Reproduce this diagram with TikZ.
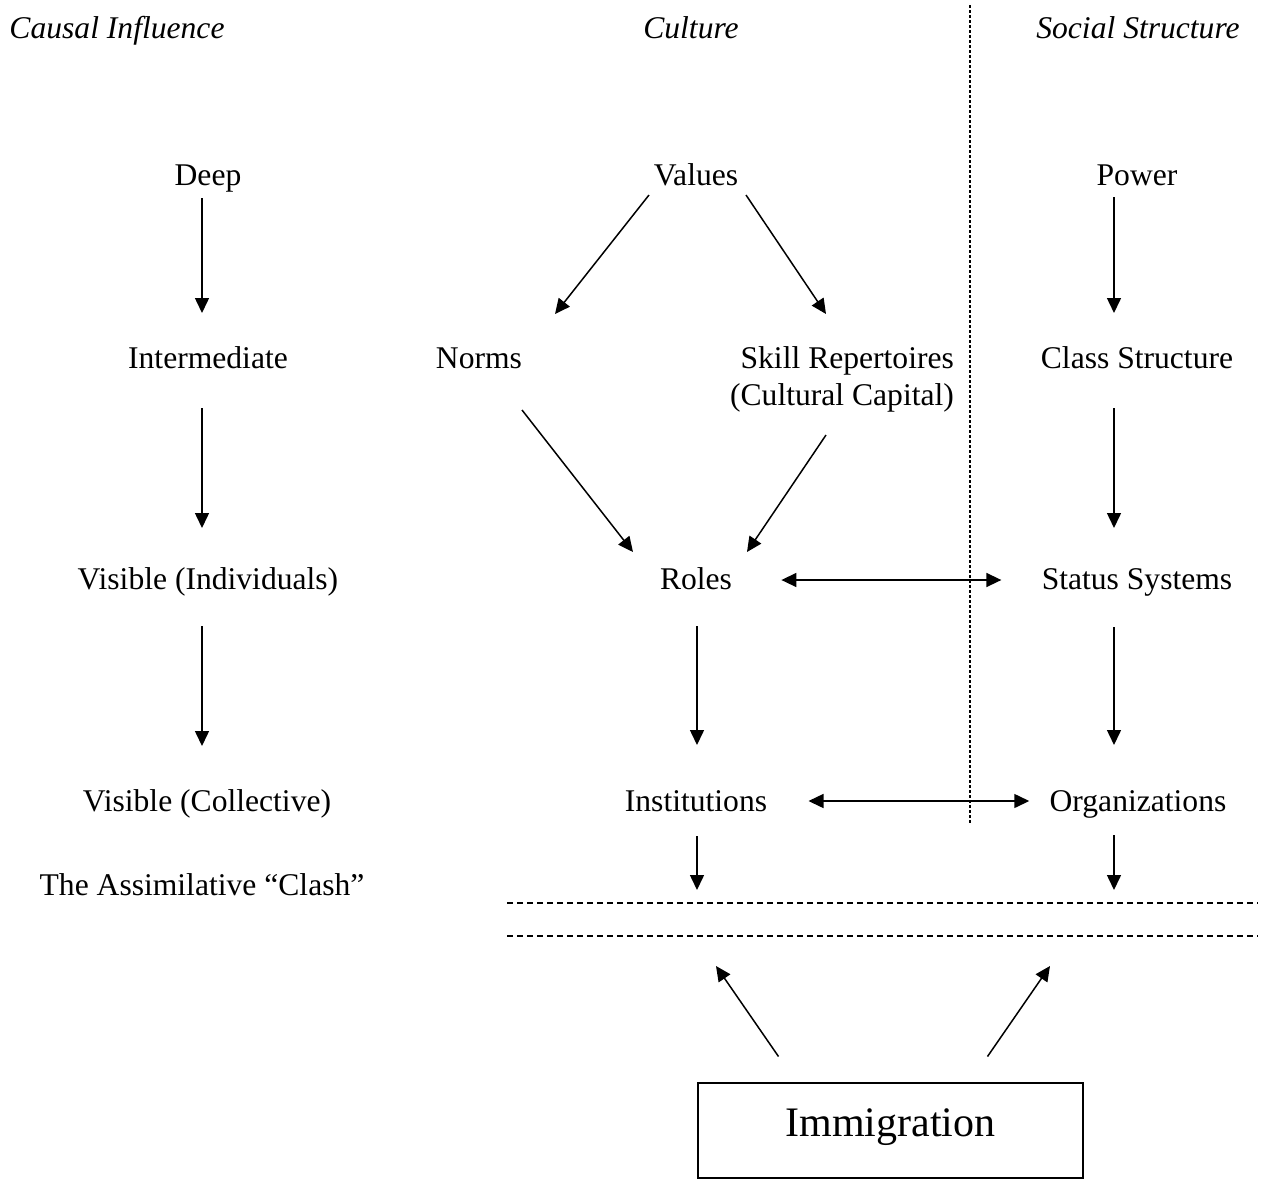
\documentclass[tikz,border=0pt]{standalone}
\usepackage{fontspec}
\setmainfont{Liberation Serif}
\usetikzlibrary{arrows.meta}

\tikzset{
    lbl/.style={inner sep=0pt,text height=1em,text depth=0pt},
    hdr/.style={lbl,font=\fontsize{15.8}{18.5}\selectfont\itshape},
    arr/.style={-{Triangle[length=7.5pt,width=7pt]},line width=0.75pt},
    darr/.style={{Triangle[length=7.5pt,width=7pt]}-{Triangle[length=7.5pt,width=7pt]},line width=0.75pt},
    clashline/.style={line width=1pt,dash pattern=on 3pt off 2pt},
    divider/.style={line width=0.8pt,dash pattern=on 1.5pt off 1pt},
}

\begin{document}
\begin{tikzpicture}[x=0.5pt,y=-0.5pt,font=\fontsize{15.8}{18.5}\selectfont]
        \useasboundingbox (0,0) rectangle (1264,1179);
        %\draw [very thin, green] (0,0) grid[step=100] (1264,1179);

        % column heads
        \node at (117,28) [hdr] (hcause) {Causal Influence};
        \node at (691,28) [hdr] (hcult) {Culture};
        \node at (1138,28) [hdr] (hsoc) {Social Structure};

        \draw [divider] (970,5) -- (970,825);

        % causal influence
        \node at (208,175) [lbl] (deep) {Deep};
        \node at (208,358) [lbl] (inter) {Intermediate};
        \node at (208,579) [lbl] (visind) {Visible (Individuals)};
        \node at (207,801) [lbl] (viscoll) {Visible (Collective)};
        \node at (202,885) [lbl] (clash) {The Assimilative “Clash”};

        % culture
        \node at (696,175) [lbl] (values) {Values};
        \node at (479,358) [lbl] (norms) {Norms};
        \node at (842,379) [inner sep=0pt,align=right] (skill) {Skill Repertoires\\(Cultural Capital)};
        \node at (696,579) [lbl] (roles) {Roles};
        \node at (696,801) [lbl] (inst) {Institutions};

        % social structure
        \node at (1137,175) [lbl] (power) {Power};
        \node at (1137,358) [lbl] (cls) {Class Structure};
        \node at (1137,579) [lbl] (status) {Status Systems};
        \node at (1138,801) [lbl] (org) {Organizations};

        \node at (890.5,1130) [draw,line width=1pt,inner sep=0pt,minimum width=192.5pt,minimum height=47.5pt,
            font=\fontsize{21}{25}\selectfont,text height=16pt,text depth=9.5pt] (immig) {Immigration};

        % the clash
        \draw [clashline] (507,903) -- (1258,903);
        \draw [clashline] (507,936) -- (1258,936);
        \coordinate (tipinst) at (697,890);
        \coordinate (tiporg) at (1114,890);
        \coordinate (hitl) at (716,966);
        \coordinate (hitr) at (1050,966);

        \draw [arr] ([shift={(-6,23)}]deep.center) -- ([shift={(-6,-45)}]inter.center);
        \draw [arr] ([shift={(-6,50)}]inter.center) -- ([shift={(-6,-51)}]visind.center);
        \draw [arr] ([shift={(-6,47)}]visind.center) -- ([shift={(-5,-55)}]viscoll.center);

        \draw [arr] ([shift={(-47,20)}]values.center) -- ([shift={(76,-44)}]norms.center);
        \draw [arr] ([shift={(50,20)}]values.center) -- ([shift={(-16,-65)}]skill.center);
        \draw [arr] ([shift={(43,52)}]norms.center) -- ([shift={(-63,-27)}]roles.center);
        \draw [arr] ([shift={(-16,56)}]skill.center) -- ([shift={(51,-27)}]roles.center);
        \draw [arr] ([shift={(1,47)}]roles.center) -- ([shift={(1,-56)}]inst.center);
        \draw [arr] ([shift={(1,35)}]inst.center) -- (tipinst);

        \draw [arr] ([shift={(-23,22)}]power.center) -- ([shift={(-23,-45)}]cls.center);
        \draw [arr] ([shift={(-23,50)}]cls.center) -- ([shift={(-23,-51)}]status.center);
        \draw [arr] ([shift={(-23,48)}]status.center) -- ([shift={(-24,-56)}]org.center);
        \draw [arr] ([shift={(-24,34)}]org.center) -- (tiporg);

        \draw [darr] ([shift={(49,1)}]roles.east) -- ([shift={(-40,1)}]status.west);
        \draw [darr] ([shift={(41,0)}]inst.east) -- ([shift={(-20,0)}]org.west);

        \draw [arr] ([shift={(-112,-25)}]immig.north) -- (hitl);
        \draw [arr] ([shift={(97,-25)}]immig.north) -- (hitr);
    \end{tikzpicture}
\end{document}
